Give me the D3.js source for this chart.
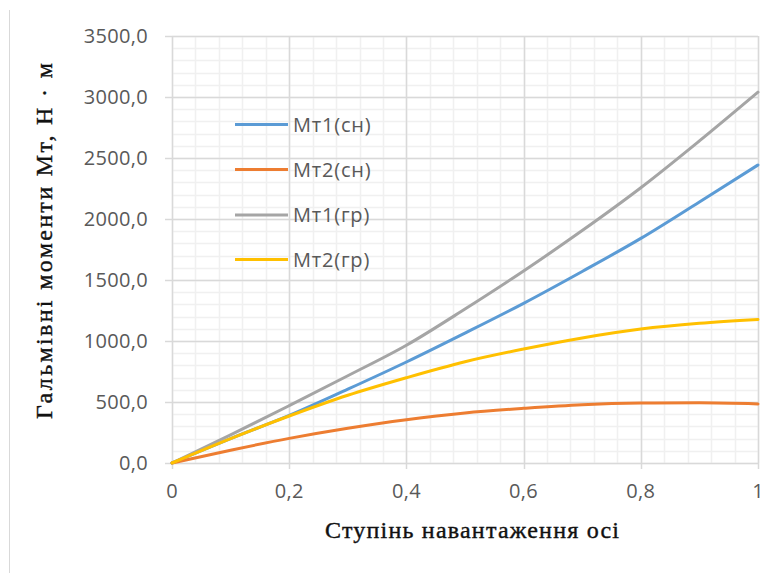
<!DOCTYPE html>
<html><head><meta charset="utf-8">
<script src="https://cdn.jsdelivr.net/npm/d3@7/dist/d3.min.js"></script>
<style>body{margin:0;background:#fff}svg{display:block}</style>
</head><body>
<script>
const xValues = [0, 0.1, 0.2, 0.3, 0.4, 0.5, 0.6, 0.7, 0.8, 0.9, 1.0];
const mt1Sn = [0, 200, 390, 605, 828, 1065, 1309, 1570, 1841, 2140, 2443];
const mt2Sn = [0, 105, 202, 285, 355, 410, 448, 478, 491, 493, 484];
const mt1Gr = [0, 230, 470, 715, 965, 1262, 1574, 1905, 2256, 2640, 3040];
const mt2Gr = [0, 200, 385, 555, 699, 830, 934, 1025, 1098, 1145, 1176];
const seriesNames = ["Мт1(сн)", "Мт2(сн)", "Мт1(гр)", "Мт2(гр)"];
const seriesColors = ["#5B9BD5", "#ED7D31", "#A5A5A5", "#FFC000"];
const xTicks = [0, 0.2, 0.4, 0.6, 0.8, 1];
const xTickLabels = ["0", "0,2", "0,4", "0,6", "0,8", "1"];
const yTicks = [0, 500, 1000, 1500, 2000, 2500, 3000, 3500];
const xTitle = "Ступінь навантаження осі";
const yTitle = "Гальмівні моменти Мт, Н · м";

const W = 782, H = 573;
const svg = d3.select("body").append("svg").attr("width", W).attr("height", H);
const x = d3.scaleLinear().domain([0, 1]).range([172, 758]);
const y = d3.scaleLinear().domain([0, 3500]).range([463, 36]);

// outer chart border (left edge visible)
svg.append("line").attr("x1", 9.5).attr("x2", 9.5).attr("y1", 10).attr("y2", H)
  .attr("stroke", "#d9d9d9").attr("stroke-width", 1);

// minor gridlines
const g = svg.append("g");
g.selectAll(".vminor").data(d3.range(0, 1.0001, 0.04)).join("line")
  .attr("x1", d => Math.round(x(d)) + 0.5).attr("x2", d => Math.round(x(d)) + 0.5)
  .attr("y1", y(3500)).attr("y2", y(0)).attr("stroke", "#f0f0f0").attr("stroke-width", 1.5);
g.selectAll(".hminor").data(d3.range(0, 3501, 100)).join("line")
  .attr("y1", d => Math.round(y(d)) + 0.5).attr("y2", d => Math.round(y(d)) + 0.5)
  .attr("x1", x(0)).attr("x2", x(1)).attr("stroke", "#f0f0f0").attr("stroke-width", 1.5);
// major gridlines
g.selectAll(".vmajor").data(xTicks).join("line")
  .attr("x1", d => Math.round(x(d)) + 0.5).attr("x2", d => Math.round(x(d)) + 0.5)
  .attr("y1", y(3500)).attr("y2", y(0) + 6).attr("stroke", "#d9d9d9").attr("stroke-width", 1.5);
g.selectAll(".hmajor").data(yTicks).join("line")
  .attr("y1", d => Math.round(y(d)) + 0.5).attr("y2", d => Math.round(y(d)) + 0.5)
  .attr("x1", x(0) - 7).attr("x2", x(1)).attr("stroke", "#d9d9d9").attr("stroke-width", 1.5);

// tick labels
svg.append("g").selectAll("text").data(yTicks).join("text")
  .attr("x", 148).attr("y", d => y(d)).attr("dy", "0.35em").attr("text-anchor", "end")
  .attr("font-family", "Open Sans").attr("font-size", 20).attr("letter-spacing", "0.3px").attr("fill", "#595959")
  .text(d => d3.format(".1f")(d).replace(".", ","));
svg.append("g").selectAll("text").data(xTicks).join("text")
  .attr("x", d => x(d)).attr("y", 498).attr("text-anchor", "middle")
  .attr("font-family", "Open Sans").attr("font-size", 20).attr("letter-spacing", "0.3px").attr("fill", "#595959")
  .text((d, i) => xTickLabels[i]);

// titles
svg.append("text").attr("x", 472).attr("y", 538).attr("text-anchor", "middle")
  .attr("font-family", "Liberation Serif").attr("font-size", 24)
  .attr("stroke", "#111").attr("stroke-width", 0.4)
  .attr("textLength", 294).attr("lengthAdjust", "spacing").attr("fill", "#111")
  .text(xTitle);
svg.append("text").attr("transform", "translate(52,241) rotate(-90)").attr("text-anchor", "middle")
  .attr("font-family", "Liberation Serif").attr("font-size", 24)
  .attr("stroke", "#111").attr("stroke-width", 0.4)
  .attr("textLength", 356).attr("lengthAdjust", "spacing").attr("fill", "#111")
  .text(yTitle);

// lines
const allSeries = [mt1Sn, mt2Sn, mt1Gr, mt2Gr];
const line = d3.line().x((d, i) => x(xValues[i])).y(d => y(d)).curve(d3.curveMonotoneX);
const drawOrder = [0, 1, 2, 3];
svg.append("g").selectAll("path").data(drawOrder).join("path")
  .attr("d", i => line(allSeries[i])).attr("fill", "none")
  .attr("stroke", i => seriesColors[i]).attr("stroke-width", 3).attr("stroke-linecap", "round");

// legend
const lg = svg.append("g");
const legY = [124.5, 169.5, 215, 259.5];
seriesNames.forEach((n, i) => {
  lg.append("line").attr("x1", 235).attr("x2", 288).attr("y1", legY[i]).attr("y2", legY[i])
    .attr("stroke", seriesColors[i]).attr("stroke-width", 3);
  lg.append("text").attr("x", 293).attr("y", legY[i]).attr("dy", "0.35em")
    .attr("font-family", "Open Sans").attr("font-size", 20).attr("letter-spacing", "0.8px").attr("fill", "#595959").text(n);
});
</script>
</body></html>
